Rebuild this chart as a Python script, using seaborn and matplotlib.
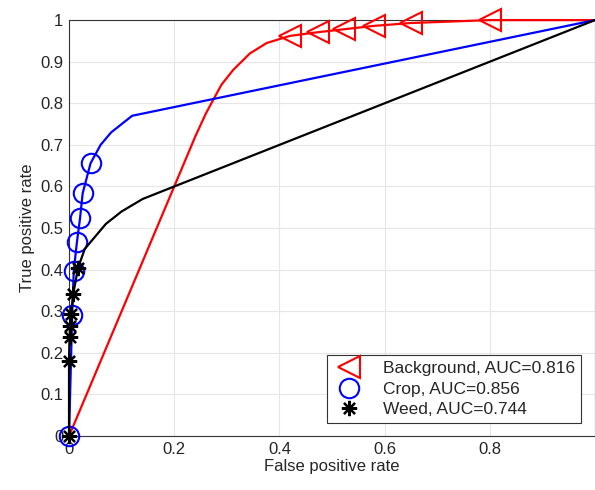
import numpy as np
import pandas as pd
import seaborn as sns
import matplotlib.pyplot as plt

# ROC points
bg_fpr = [0.0, 0.05, 0.10, 0.20, 0.24, 0.26, 0.274, 0.29, 0.312, 0.344, 0.376, 0.42,
          0.474, 0.523, 0.579, 0.65, 0.80, 1.0]
bg_tpr = [0.0, 0.15, 0.30, 0.60, 0.72, 0.775, 0.808, 0.845, 0.88, 0.92, 0.945, 0.962,
          0.971, 0.978, 0.986, 0.993, 1.0, 1.0]
bg_marks = [11, 12, 13, 14, 15, 16]

crop_fpr = [0.0, 0.006, 0.009, 0.015, 0.021, 0.026, 0.041, 0.06, 0.08, 0.12, 1.0]
crop_tpr = [0.0, 0.29, 0.397, 0.466, 0.524, 0.584, 0.656, 0.70, 0.73, 0.77, 1.0]
crop_marks = [0, 1, 2, 3, 4, 5, 6]

weed_fpr = [0.0, 0.0, 0.001, 0.002, 0.004, 0.008, 0.017, 0.03, 0.05, 0.07, 0.10, 0.14, 1.0]
weed_tpr = [0.0, 0.18, 0.238, 0.264, 0.293, 0.341, 0.404, 0.45, 0.48, 0.51, 0.54, 0.57, 1.0]
weed_marks = [0, 1, 2, 3, 4, 5, 6]

labels = ["Background, AUC=0.816", "Crop, AUC=0.856", "Weed, AUC=0.744"]
colors = ["#ff0000", "#0000ff", "#000000"]

sns.set_style("whitegrid")
plt.rcParams['font.family'] = ['Liberation Sans', 'DejaVu Sans']

fig = plt.figure(figsize=(5.95, 4.9), dpi=100)
ax = fig.add_axes([0.116, 0.110, 0.884, 0.849])

series = [
    (bg_fpr, bg_tpr, bg_marks, "<", 16, 1.5),
    (crop_fpr, crop_tpr, crop_marks, "o", 14, 1.5),
    (weed_fpr, weed_tpr, weed_marks, (8, 2, 0), 11, 1.6),
]
for (x, y, marks, mk, ms, mew), lab, col in zip(series, labels, colors):
    df = pd.DataFrame({"fpr": x, "tpr": y})
    sns.lineplot(data=df, x="fpr", y="tpr", sort=False, estimator=None, ax=ax,
                 color=col, lw=1.6, marker=mk, markevery=marks, markersize=ms,
                 markerfacecolor="none", markeredgecolor=col, markeredgewidth=mew,
                 label=lab, clip_on=False, zorder=3)

ax.set_xlim(0, 1)
ax.set_ylim(0, 1)
ax.set_xticks([0, 0.2, 0.4, 0.6, 0.8])
ax.set_xticklabels(["0", "0.2", "0.4", "0.6", "0.8"])
ax.set_yticks(np.arange(0, 1.01, 0.1))
ax.set_yticklabels(["0"] + ["%.1f" % v for v in np.arange(0.1, 0.95, 0.1)] + ["1"])
ax.tick_params(direction="in", length=4, labelsize=12, colors="#262626", pad=4)
ax.grid(True, color="#e6e6e6", lw=0.8)
for s in ax.spines.values():
    s.set_color("#333333")
    s.set_linewidth(0.8)

ax.set_xlabel("False positive rate", fontsize=12, color="#262626", labelpad=2)
ax.set_ylabel("True positive rate", fontsize=12, color="#262626", labelpad=4)

leg = ax.legend(loc="lower right", fontsize=12.5, frameon=True, fancybox=False,
                edgecolor="#333333", framealpha=1, handlelength=1.85,
                handletextpad=1.0, borderpad=0.35, labelspacing=0.3,
                bbox_to_anchor=(0.99, 0.01))
leg.get_frame().set_linewidth(0.8)
for h in leg.get_lines():
    h.set_linestyle("none")

fig.savefig("out.png", dpi=100)
